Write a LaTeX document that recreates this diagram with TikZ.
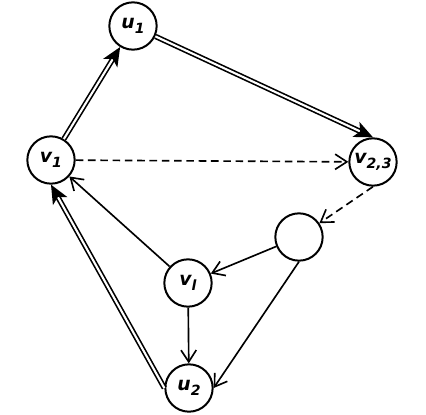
\documentclass[tikz,border=0pt]{standalone}
\usepackage{fontspec}
\setmainfont{DejaVu Sans}
\usepackage{tikz}
\usetikzlibrary{arrows.meta}
\newcommand{\lowidx}[1]{\raisebox{-0.45ex}{\fontsize{12}{12}\selectfont #1}}

\begin{document}
\begin{tikzpicture}[x=0.03cm,y=-0.03cm,
  vertex/.style={draw,circle,line width=1.7pt,minimum size=1.42cm,inner sep=0pt,font=\fontsize{16}{16}\selectfont\bfseries\itshape},
  dbl/.style={double,line width=1.4pt,double distance=1.8pt,-{Stealth[length=16pt,width=14pt,inset=4pt]}},
  arc/.style={-{Straight Barb[length=10pt,width=13pt]},line width=1.4pt},
  dashedarc/.style={arc,dash pattern=on 6.5pt off 4pt}]
\useasboundingbox (0,0) rectangle (426,414);
\node[vertex] (u1) at (133,26) {u\lowidx{1}};
\node[vertex] (v1) at (51,160) {v\lowidx{1}};
\node[vertex] (v23) at (373,162) {v\lowidx{2,3}};
\node[vertex] (w) at (299,237) {};
\node[vertex] (vl) at (188,283) {v\lowidx{l}};
\node[vertex] (u2) at (189,388) {u\lowidx{2}};
\draw[dbl] (v1) -- (u1);
\draw[dbl] (u1) -- (v23.north);
\draw[dbl] (u2.west) -- (v1.south);
\draw[dashedarc] (v1) -- (v23);
\draw[dashedarc] (v23.south) -- (w);
\draw[arc] (w) -- (vl);
\draw[arc] (w.south) -- (u2.east);
\draw[arc] (vl) -- (v1);
\draw[arc] (vl) -- (u2);
\end{tikzpicture}
\end{document}
